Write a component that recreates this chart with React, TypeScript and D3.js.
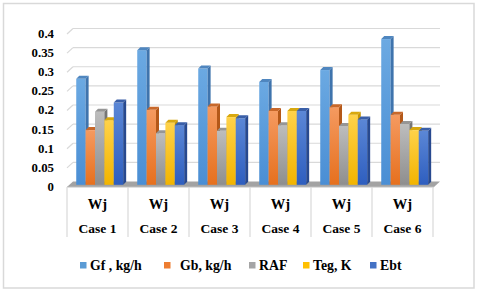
import * as d3 from "d3";

const categories = ["Case 1", "Case 2", "Case 3", "Case 4", "Case 5", "Case 6"];
const seriesNames = ["Gf , kg/h", "Gb, kg/h", "RAF", "Teg, K", "Ebt"];
const gf = [0.277, 0.352, 0.304, 0.269, 0.3, 0.381];
const gb = [0.143, 0.196, 0.205, 0.193, 0.203, 0.183];
const raf = [0.191, 0.135, 0.141, 0.156, 0.154, 0.159];
const teg = [0.169, 0.162, 0.177, 0.193, 0.183, 0.143];
const ebt = [0.215, 0.156, 0.174, 0.193, 0.171, 0.141];
const yTicks = [0, 0.05, 0.1, 0.15, 0.2, 0.25, 0.3, 0.35, 0.4];

const seriesValues = [gf, gb, raf, teg, ebt];

// front / side / top shades per series
const palette = [
  { key: "#5b9bd5", top: "#6ba9e2", bottom: "#4a8ed4", side: "#3f74ad", cap: "#4f86bf" },
  { key: "#ed7d31", top: "#f59a60", bottom: "#e6701e", side: "#b45819", cap: "#c8682a" },
  { key: "#a5a5a5", top: "#bdbdbd", bottom: "#8e8e8e", side: "#767676", cap: "#969696" },
  { key: "#ffc000", top: "#ffd249", bottom: "#f2b400", side: "#c49300", cap: "#d8a80e" },
  { key: "#4472c4", top: "#5b87d6", bottom: "#2e5ebf", side: "#27498f", cap: "#3a5fa8" },
];

const font = "Liberation Serif, Liberation Sans, Arial, sans-serif";
const gridColor = "#d9d9d9";

export default function App() {
  const left = 67;
  const right = 433;
  const back = { dx: 6, dy: -5.5 };
  const mid = { dx: 2.2, dy: -2.2 };
  const depth = 3;

  const x = d3.scaleBand<string>().domain(categories).range([left, right]);
  const xs = d3
    .scaleBand<string>()
    .domain(seriesNames)
    .range([0, x.bandwidth()])
    .paddingInner(0)
    .paddingOuter(0.75);
  const y = d3.scaleLinear().domain([0, 0.4]).range([187, 34]);

  const floorFrontY = y(0);
  const floorBackY = y(0) + back.dy;

  const bars: JSX.Element[] = [];
  categories.forEach((c, ci) => {
    seriesNames.forEach((s, si) => {
      const v = seriesValues[si][ci];
      const x0 = (x(c) as number) + (xs(s) as number) + mid.dx;
      const x1 = x0 + xs.bandwidth();
      const yb = y(0) + mid.dy;
      const yt = y(v) + mid.dy;
      const p = palette[si];
      bars.push(
        <g key={`${ci}-${si}`}>
          <rect x={x0} y={yt} width={x1 - x0} height={yb - yt} fill={`url(#grad${si})`} />
          <polygon
            points={`${x1},${yb} ${x1},${yt} ${x1 + depth},${yt - depth} ${x1 + depth},${yb - depth}`}
            fill={p.side}
          />
          <polygon
            points={`${x0},${yt} ${x0 + depth},${yt - depth} ${x1 + depth},${yt - depth} ${x1},${yt}`}
            fill={p.cap}
          />
        </g>
      );
    });
  });

  const legendX = [80, 164, 249, 303, 370];
  const legendGap = [10, 16, 10, 10, 10];

  return (
    <svg
      width={480}
      height={293}
      style={{ position: "absolute", left: 0, top: 0, background: "#fff", fontFamily: font }}
    >
      <defs>
        {palette.map((p, i) => (
          <linearGradient key={i} id={`grad${i}`} x1="0" y1="0" x2="0" y2="1">
            <stop offset="0%" stopColor={p.top} />
            <stop offset="100%" stopColor={p.bottom} />
          </linearGradient>
        ))}
      </defs>

      <rect x={3.5} y={3.5} width={470.5} height={284.5} fill="#fff" stroke={gridColor} strokeWidth={1.5} />

      {/* gridlines on the back wall with a slanted left edge */}
      {yTicks.slice(1).map((t) => (
        <g key={t}>
          <line
            x1={left}
            y1={y(t)}
            x2={left + back.dx}
            y2={y(t) + back.dy}
            stroke={gridColor}
            strokeWidth={1.2}
          />
          <line
            x1={left + back.dx}
            y1={y(t) + back.dy}
            x2={right + back.dx + 1}
            y2={y(t) + back.dy}
            stroke={gridColor}
            strokeWidth={1.2}
          />
        </g>
      ))}

      {/* floor */}
      <polygon
        points={`${left},${floorFrontY} ${left + back.dx},${floorBackY} ${right + back.dx + 1},${floorBackY} ${right + 1},${floorFrontY}`}
        fill="#a3a3a3"
      />
      <line x1={left} y1={floorFrontY} x2={right + 1} y2={floorFrontY} stroke="#bfbfbf" strokeWidth={1} />

      {bars}

      {/* y axis labels */}
      {yTicks.map((t) => (
        <text
          key={t}
          x={54}
          y={y(t) + 1}
          textAnchor="end"
          dominantBaseline="middle"
          style={{ fontFamily: font, fontWeight: 700, fontSize: 12.8 }}
          fill="#000"
        >
          {String(t)}
        </text>
      ))}

      {/* category table */}
      {categories.concat([""]).map((c, i) => {
        const xx = i < categories.length ? (x(c) as number) : right;
        return (
          <line key={`v${i}`} x1={xx} y1={floorFrontY} x2={xx} y2={237} stroke={gridColor} strokeWidth={1.2} />
        );
      })}
      {categories.map((c) => {
        const cx = (x(c) as number) + x.bandwidth() / 2;
        return (
          <g key={c} style={{ fontFamily: font, fontWeight: 700 }} fill="#000" textAnchor="middle">
            <text x={cx} y={209} fontSize={14.5}>
              Wj
            </text>
            <text x={cx} y={233} fontSize={13.5}>
              {c}
            </text>
          </g>
        );
      })}

      {/* legend */}
      {seriesNames.map((s, i) => (
        <g key={s}>
          <rect x={legendX[i]} y={262} width={6.5} height={6.5} fill={palette[i].key} />
          <text
            x={legendX[i] + legendGap[i]}
            y={269.5}
            style={{ fontFamily: font, fontWeight: 700, fontSize: 13.8 }}
            fill="#000"
          >
            {s}
          </text>
        </g>
      ))}
    </svg>
  );
}
